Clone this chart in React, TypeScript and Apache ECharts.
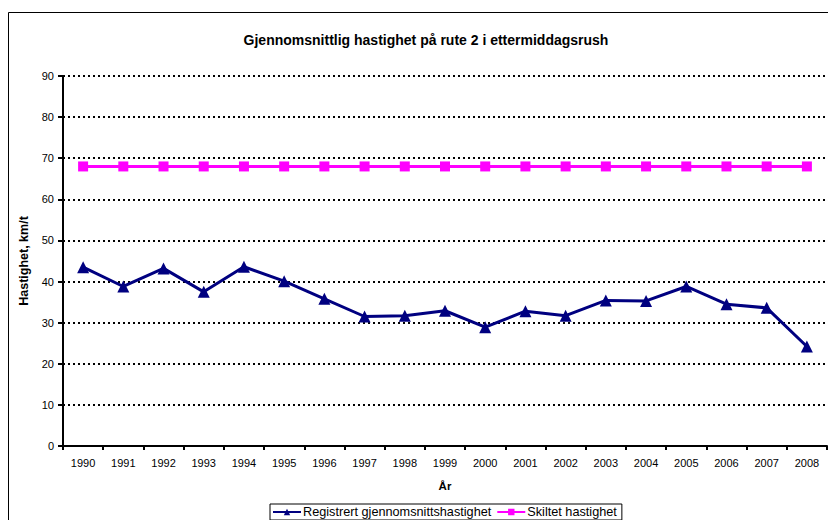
import React, { useEffect, useRef } from "react";
import * as echarts from "echarts";

const years = ["1990","1991","1992","1993","1994","1995","1996","1997","1998","1999","2000","2001","2002","2003","2004","2005","2006","2007","2008"];
const registrert = [43.5, 38.8, 43.2, 37.5, 43.6, 40.1, 35.8, 31.5, 31.7, 32.9, 28.9, 32.8, 31.7, 35.4, 35.3, 38.8, 34.5, 33.6, 24.2];
const skiltet = [68, 68, 68, 68, 68, 68, 68, 68, 68, 68, 68, 68, 68, 68, 68, 68, 68, 68, 68];
const titleText = "Gjennomsnittlig hastighet på rute 2 i ettermiddagsrush";
const seriesNames = ["Registrert gjennomsnittshastighet", "Skiltet hastighet"];

const FONT = "'Liberation Sans', Arial, sans-serif";

export default function App() {
  const ref = useRef<HTMLDivElement>(null);
  useEffect(() => {
    if (!ref.current) return;
    const chart = echarts.init(ref.current, undefined, { renderer: "svg" });
    chart.setOption({
      animation: false,
      backgroundColor: "#ffffff",
      textStyle: { fontFamily: FONT },
      title: {
        text: titleText,
        left: 421,
        top: 28,
        textAlign: "center",
        textStyle: { fontFamily: FONT, fontSize: 14, fontWeight: "bold", color: "#000" },
      },
      graphic: [
        {
          type: "rect",
          shape: { x: 8.5, y: 12.5, width: 900, height: 600 },
          style: { fill: "none", stroke: "#000", lineWidth: 1 },
          silent: true,
          z: -1,
        },
      ],
      legend: {
        data: seriesNames,
        left: 270,
        top: 504,
        orient: "horizontal",
        itemWidth: 28,
        itemHeight: 8,
        itemGap: 5,
        padding: [1, 5, 1, 2],
        borderColor: "#000",
        borderWidth: 1,
        backgroundColor: "#fff",
        textStyle: { fontFamily: FONT, fontSize: 12.7, lineHeight: 14, color: "#000", padding: [0, 0, 0, -3] },
      },
      grid: { left: 63, right: 1, top: 76, bottom: 74, containLabel: false },
      xAxis: {
        type: "category",
        data: years,
        boundaryGap: true,
        name: "År",
        nameLocation: "middle",
        nameGap: 34,
        nameTextStyle: { fontFamily: FONT, fontSize: 11.5, fontWeight: "bold", color: "#000" },
        axisLine: { show: true, lineStyle: { color: "#000", width: 2 } },
        axisTick: { show: true, alignWithLabel: false, length: 4, lineStyle: { color: "#000", width: 2 } },
        axisLabel: { fontFamily: FONT, fontSize: 11, color: "#000", margin: 11, interval: 0 },
        splitLine: { show: false },
      },
      yAxis: {
        type: "value",
        min: 0,
        max: 90,
        interval: 10,
        name: "Hastighet, km/t",
        nameLocation: "middle",
        nameGap: 28,
        nameRotate: 90,
        nameTextStyle: { fontFamily: FONT, fontSize: 12.5, fontWeight: "bold", color: "#000" },
        axisLine: { show: true, lineStyle: { color: "#000", width: 2 } },
        axisTick: { show: true, length: 5, lineStyle: { color: "#000", width: 2 } },
        axisLabel: { fontFamily: FONT, fontSize: 11, color: "#000", margin: 9 },
        splitLine: { show: true, lineStyle: { color: "#000", width: 2, type: [2, 3] } },
      },
      series: [
        {
          name: seriesNames[0],
          type: "line",
          data: registrert,
          color: "#000080",
          symbol: "triangle",
          symbolSize: 12,
          lineStyle: { color: "#000080", width: 3 },
          itemStyle: { color: "#000080" },
          z: 3,
        },
        {
          name: seriesNames[1],
          type: "line",
          data: skiltet,
          color: "#FF00FF",
          symbol: "rect",
          symbolSize: 10,
          lineStyle: { color: "#FF00FF", width: 3 },
          itemStyle: { color: "#FF00FF" },
          z: 2,
        },
      ],
    });
    return () => chart.dispose();
  }, []);
  return (
    <div
      ref={ref}
      style={{ position: "fixed", left: 0, top: 0, width: 828, height: 520 }}
    />
  );
}
